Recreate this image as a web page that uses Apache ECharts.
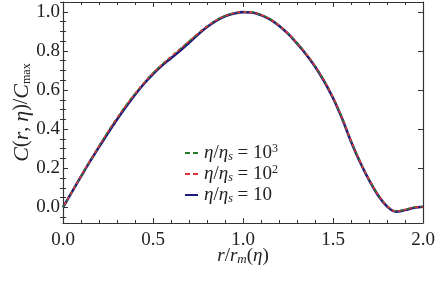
<!DOCTYPE html>
<html>
<head>
<meta charset="utf-8">
<script src="https://cdn.jsdelivr.net/npm/echarts@6/dist/echarts.min.js"></script>
<style>html,body{margin:0;padding:0;background:#fff}#c{width:437px;height:286px}</style>
</head>
<body>
<div id="c"></div>
<script>
const rValues = [0, 0.05, 0.1, 0.15, 0.2, 0.25, 0.3, 0.35, 0.4, 0.45, 0.5, 0.55, 0.6, 0.65, 0.7, 0.75, 0.8, 0.85, 0.9, 0.95, 1.0, 1.05, 1.1, 1.15, 1.2, 1.25, 1.3, 1.35, 1.4, 1.45, 1.5, 1.55, 1.6, 1.65, 1.7, 1.75, 1.8, 1.85, 1.9, 1.95, 2.0];
const c1000 = [0, 0.08, 0.16, 0.238, 0.314, 0.388, 0.457, 0.522, 0.582, 0.637, 0.687, 0.731, 0.771, 0.81, 0.85, 0.889, 0.926, 0.957, 0.979, 0.993, 1.0, 0.998, 0.985, 0.963, 0.931, 0.89, 0.841, 0.786, 0.723, 0.649, 0.563, 0.459, 0.341, 0.236, 0.144, 0.066, 0.009, -0.019, -0.011, 0.0, 0.004];
const c100 = [0, 0.08, 0.16, 0.238, 0.313, 0.387, 0.456, 0.521, 0.581, 0.636, 0.686, 0.73, 0.77, 0.809, 0.849, 0.888, 0.925, 0.956, 0.978, 0.992, 0.999, 0.997, 0.984, 0.962, 0.93, 0.889, 0.84, 0.785, 0.722, 0.648, 0.562, 0.458, 0.34, 0.235, 0.143, 0.065, 0.008, -0.02, -0.012, 0.0, 0.003];
const c10 = [0, 0.079, 0.158, 0.235, 0.308, 0.38, 0.449, 0.514, 0.576, 0.632, 0.682, 0.725, 0.763, 0.801, 0.842, 0.884, 0.922, 0.954, 0.977, 0.991, 0.998, 0.996, 0.983, 0.961, 0.929, 0.888, 0.838, 0.783, 0.72, 0.646, 0.559, 0.455, 0.337, 0.232, 0.14, 0.062, 0.005, -0.022, -0.014, -0.002, 0.003];
const xTicks = [0, 0.5, 1.0, 1.5, 2.0];
const yTicks = [0, 0.2, 0.4, 0.6, 0.8, 1.0];
const yMinorTicks = [-0.05, 0.05, 0.1, 0.15, 0.25, 0.3, 0.35, 0.45, 0.5, 0.55, 0.65, 0.7, 0.75, 0.85, 0.9, 0.95, 1.05];

const serif = 'Liberation Serif';
const frame = '#333';
const pairs = arr => rValues.map((r, i) => [r, arr[i]]);

const legendText = {
  eta1000: '{i|η}/{i|η}{sub|s} = 10{sup|3}',
  eta100: '{i|η}/{i|η}{sub|s} = 10{sup|2}',
  eta10: '{i|η}/{i|η}{sub|s} = 10'
};
const rich = {
  i: {fontFamily: serif, fontStyle: 'italic', fontSize: 19, color: '#222'},
  sub: {fontFamily: serif, fontStyle: 'italic', fontSize: 12, color: '#222', verticalAlign: 'bottom', padding: [7, 0, 0, 0]},
  sup: {fontFamily: serif, fontSize: 12, color: '#222', verticalAlign: 'top', padding: [0, 0, 8, 0]}
};

const yBase = {type: 'value', min: -0.08, max: 1.05, splitLine: {show: false}};

const chart = echarts.init(document.getElementById('c'));
chart.setOption({
  animation: false,
  grid: {left: 63, right: 14, top: 2, bottom: 63, containLabel: false, outerBoundsMode: 'none'},
  legend: {
    orient: 'vertical', left: 180, top: 138, itemGap: 1,
    itemWidth: 13, itemHeight: 2, symbolKeepAspect: false,
    data: [
      {name: 'eta1000', icon: 'path://M0 0H5V2H0Z M8 0H13V2H8Z'},
      {name: 'eta100', icon: 'path://M0 0H5V2H0Z M8 0H13V2H8Z'},
      {name: 'eta10', icon: 'rect'}
    ],
    formatter: n => legendText[n],
    textStyle: {fontFamily: serif, fontSize: 19, color: '#222', lineHeight: 20, padding: [0, 0, 0, 1], rich: rich}
  },
  xAxis: [
    {
      type: 'value', min: 0, max: 2, interval: 0.5, position: 'bottom',
      axisLine: {show: true, onZero: false, lineStyle: {color: frame, width: 1.2}},
      axisTick: {show: true, inside: true, length: 5, lineStyle: {color: frame}},
      minorTick: {show: true, splitNumber: 5, length: 3, lineStyle: {color: frame}},
      axisLabel: {margin: 8, fontFamily: serif, fontSize: 19, color: '#222', formatter: v => v.toFixed(1)},
      splitLine: {show: false},
      name: '{i|r}/{i|r}{s|m}({i|η})', nameLocation: 'middle', nameGap: 23, nameMoveOverlap: false,
      nameTextStyle: {fontFamily: serif, fontSize: 19, color: '#222', rich: {
        i: {fontFamily: serif, fontStyle: 'italic', fontSize: 19, color: '#222'},
        s: {fontFamily: serif, fontStyle: 'italic', fontSize: 13, color: '#222', verticalAlign: 'bottom', padding: [7, 0, 0, 0]}
      }}
    },
    {
      type: 'value', min: 0, max: 2, interval: 0.5, position: 'top',
      axisLine: {show: true, onZero: false, lineStyle: {color: frame, width: 1.2}},
      axisTick: {show: true, inside: true, length: 5, lineStyle: {color: frame}},
      minorTick: {show: true, splitNumber: 5, length: 3, lineStyle: {color: frame}},
      axisLabel: {show: false}, splitLine: {show: false}
    }
  ],
  yAxis: [
    Object.assign({}, yBase, {
      position: 'left',
      axisLine: {show: true, onZero: false, lineStyle: {color: frame, width: 1.2}},
      axisTick: {show: true, inside: true, length: 5, customValues: yTicks, lineStyle: {color: frame}},
      axisLabel: {margin: 3, customValues: yTicks, fontFamily: serif, fontSize: 19, color: '#222', formatter: v => v.toFixed(1)},
      name: '{i|C}({i|r}, {i|η})/{i|C}{s|max}', nameLocation: 'middle', nameGap: 30, nameMoveOverlap: false,
      nameTextStyle: {fontFamily: serif, fontSize: 20, color: '#222', rich: {
        i: {fontFamily: serif, fontStyle: 'italic', fontSize: 22, color: '#222'},
        s: {fontFamily: serif, fontSize: 12, color: '#222', verticalAlign: 'bottom', padding: [9, 0, 0, 0]}
      }}
    }),
    Object.assign({}, yBase, {
      position: 'left',
      axisLine: {show: false},
      axisTick: {show: true, inside: true, length: 3, customValues: yMinorTicks, lineStyle: {color: frame}},
      axisLabel: {show: false}
    }),
    Object.assign({}, yBase, {
      position: 'right',
      axisLine: {show: true, onZero: false, lineStyle: {color: frame, width: 1.2}},
      axisTick: {show: true, inside: true, length: 5, customValues: yTicks, lineStyle: {color: frame}},
      axisLabel: {show: false}
    }),
    Object.assign({}, yBase, {
      position: 'right',
      axisLine: {show: false},
      axisTick: {show: true, inside: true, length: 3, customValues: yMinorTicks, lineStyle: {color: frame}},
      axisLabel: {show: false}
    })
  ],
  series: [
    {name: 'eta10', type: 'line', data: pairs(c10), smooth: 0.4, symbol: 'none', z: 2,
     color: '#1c1c7e', lineStyle: {color: '#1c1c7e', width: 2.6, type: 'solid'}},
    {name: 'eta1000', type: 'line', data: pairs(c1000), smooth: 0.4, symbol: 'none', z: 3,
     color: '#2a7a2a', lineStyle: {color: '#2a7a2a', width: 1.6, type: [4, 3]}},
    {name: 'eta100', type: 'line', data: pairs(c100), smooth: 0.4, symbol: 'none', z: 4,
     color: '#e8303a', lineStyle: {color: '#e8303a', width: 1.6, type: [3, 3], dashOffset: 3}}
  ]
});
</script>
</body>
</html>
